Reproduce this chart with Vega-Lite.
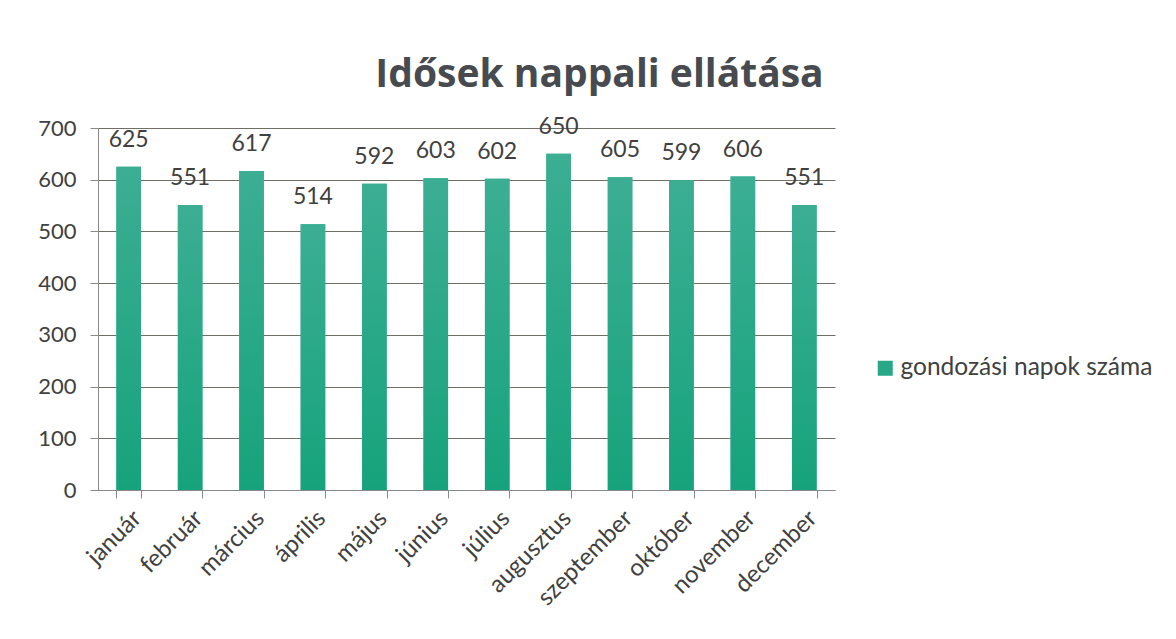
{
  "$schema": "https://vega.github.io/schema/vega-lite/v6.json",
  "width": 737,
  "height": 362,
  "autosize": "none",
  "padding": {"left": 98, "top": 128, "right": 341, "bottom": 149},
  "background": "white",
  "title": {
    "text": "Idősek nappali ellátása",
    "font": "Open Sans",
    "fontSize": 39,
    "fontWeight": "bold",
    "color": "#474b50",
    "anchor": "middle",
    "frame": "group",
    "dx": 133,
    "dy": 50,
    "baseline": "alphabetic",
    "offset": 40
  },
  "data": {
    "values": [
      {"month": "január", "value": 625, "series": "gondozási napok száma"},
      {"month": "február", "value": 551, "series": "gondozási napok száma"},
      {"month": "március", "value": 617, "series": "gondozási napok száma"},
      {"month": "április", "value": 514, "series": "gondozási napok száma"},
      {"month": "május", "value": 592, "series": "gondozási napok száma"},
      {"month": "június", "value": 603, "series": "gondozási napok száma"},
      {"month": "július", "value": 602, "series": "gondozási napok száma"},
      {"month": "augusztus", "value": 650, "series": "gondozási napok száma"},
      {"month": "szeptember", "value": 605, "series": "gondozási napok száma"},
      {"month": "október", "value": 599, "series": "gondozási napok száma"},
      {"month": "november", "value": 606, "series": "gondozási napok száma"},
      {"month": "december", "value": 551, "series": "gondozási napok száma"}
    ]
  },
  "encoding": {
    "x": {
      "field": "month",
      "type": "nominal",
      "sort": null,
      "scale": {"paddingInner": 0.6, "paddingOuter": 0.3},
      "axis": {
        "title": null,
        "labelAngle": -45,
        "labelFont": "Lato",
        "labelFontSize": 24,
        "labelColor": "#404040",
        "labelPadding": 8,
        "tickBand": "extent",
        "tickSize": 8,
        "tickColor": "#8a8a8a",
        "domainColor": "#8a8a8a",
        "grid": false
      }
    },
    "y": {
      "field": "value",
      "type": "quantitative",
      "scale": {"domain": [0, 700], "nice": false},
      "axis": {
        "title": null,
        "values": [0, 100, 200, 300, 400, 500, 600, 700],
        "labelFont": "Lato",
        "labelFontSize": 22,
        "labelColor": "#404040",
        "labelPadding": 14,
        "tickSize": 8,
        "tickColor": "#8a8a8a",
        "domainColor": "#8a8a8a",
        "gridColor": "#6f6f66",
        "gridWidth": 1
      }
    }
  },
  "layer": [
    {
      "mark": {"type": "bar"},
      "encoding": {
        "color": {
          "field": "series",
          "type": "nominal",
          "scale": {"range": ["#28a887"]},
          "legend": {
            "title": null,
            "orient": "none",
            "legendX": 775,
            "legendY": 228,
            "symbolType": "square",
            "symbolSize": 225,
            "symbolStrokeWidth": 0,
            "labelFont": "Lato",
            "labelFontSize": 24.5,
            "labelColor": "#404040",
            "labelOffset": 3,
            "labelLimit": 0
          }
        }
      }
    },
    {
      "mark": {
        "type": "bar",
        "color": {"gradient": "linear", "x1": 0, "y1": 0, "x2": 0, "y2": 1, "stops": [{"offset": 0, "color": "#3cae93"}, {"offset": 1, "color": "#16a37c"}]}
      }
    },
    {
      "mark": {"type": "text", "font": "Lato", "fontSize": 23, "color": "#404040", "baseline": "alphabetic", "dy": -20},
      "encoding": {
        "text": {"field": "value", "type": "quantitative"}
      }
    }
  ],
  "config": {
    "view": {"stroke": null}
  }
}
